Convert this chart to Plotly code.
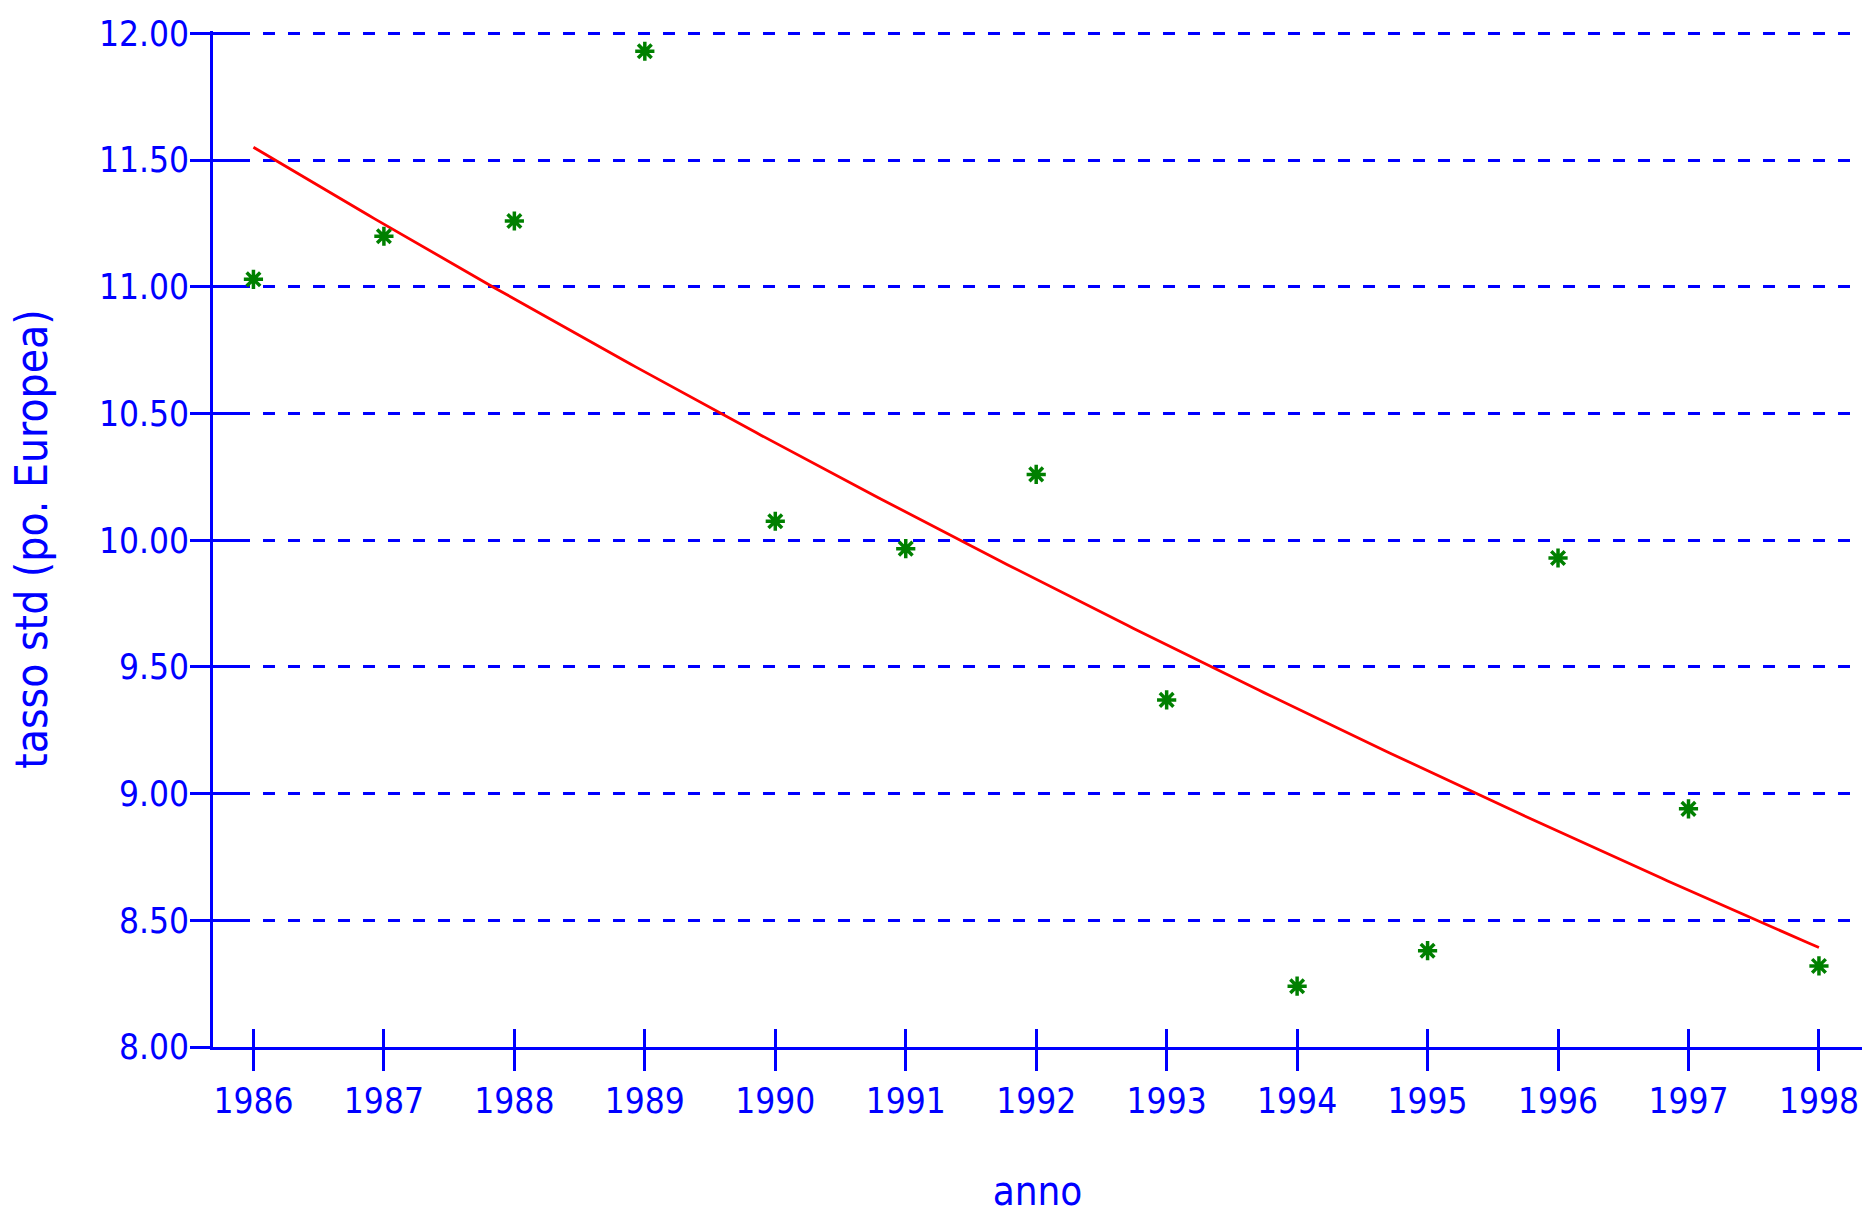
import numpy as np
import plotly.graph_objects as go

years = [1986, 1987, 1988, 1989, 1990, 1991, 1992, 1993, 1994, 1995, 1996, 1997, 1998]
tasso_std = [11.03, 11.20, 11.26, 11.93, 10.075, 9.967, 10.26, 9.37, 8.24, 8.38, 9.93, 8.94, 8.32]
y_ticks = [8.0, 8.5, 9.0, 9.5, 10.0, 10.5, 11.0, 11.5, 12.0]
x_title = "anno"
y_title = "tasso std (po. Europea)"

BLUE = "#0000FF"
RED = "#FF0000"
GREEN = "#008000"
FONT = "DejaVu Sans Condensed, DejaVu Sans, sans-serif"

# exponential trend fitted to the data
coef = np.polyfit(years, np.log(tasso_std), 1)
trend_x = np.linspace(years[0], years[-1], 300)
trend_y = np.exp(np.polyval(coef, trend_x))

fig = go.Figure()
fig.add_trace(go.Scatter(x=trend_x, y=trend_y, mode="lines",
                         line=dict(color=RED, width=2.8), hoverinfo="skip", showlegend=False))
fig.add_trace(go.Scatter(x=years, y=tasso_std, mode="markers",
                         marker=dict(symbol="asterisk-open", size=16, color=GREEN,
                                     line=dict(color=GREEN, width=3.5)),
                         showlegend=False))
# invisible helpers so the overlay axes (crossing tick marks) are drawn
fig.add_trace(go.Scatter(x=[years[0]], y=[y_ticks[0]], xaxis="x2", yaxis="y",
                         mode="markers", marker=dict(opacity=0), hoverinfo="skip", showlegend=False))
fig.add_trace(go.Scatter(x=[years[0]], y=[y_ticks[0]], xaxis="x", yaxis="y2",
                         mode="markers", marker=dict(opacity=0), hoverinfo="skip", showlegend=False))

xr = [1985.69, 1998.33]
yr = [8.0, 12.01]

fig.update_layout(
    width=1862, height=1214,
    margin=dict(l=213, r=0, t=31, b=167),
    plot_bgcolor="white", paper_bgcolor="white",
    font=dict(family=FONT, color=BLUE, size=36),
    xaxis=dict(range=xr, tickvals=years, ticktext=[str(y) for y in years],
               showgrid=False, zeroline=False, automargin=False,
               showline=True, linecolor=BLUE, linewidth=3,
               ticks="outside", ticklen=21, tickwidth=3, tickcolor=BLUE,
               tickfont=dict(family=FONT, size=35, color=BLUE),
               ticklabelstandoff=0, ticklabeloverflow="allow",
               title=dict(text=x_title, font=dict(family=FONT, size=40, color=BLUE), standoff=68)),
    yaxis=dict(range=yr, tickvals=y_ticks, tickformat=".2f",
               showgrid=True, gridcolor=BLUE, gridwidth=3, griddash="12px,13px",
               zeroline=False, automargin=False,
               showline=True, linecolor=BLUE, linewidth=3,
               ticks="outside", ticklen=20, tickwidth=3, tickcolor=BLUE,
               tickfont=dict(family=FONT, size=35, color=BLUE),
               ticklabelstandoff=-6, ticklabeloverflow="allow",
               title=dict(text=y_title, font=dict(family=FONT, size=44, color=BLUE), standoff=38)),
    xaxis2=dict(range=xr, overlaying="x", anchor="y", tickvals=years,
                showticklabels=False, showgrid=False, zeroline=False, showline=False,
                ticks="inside", ticklen=18, tickwidth=3, tickcolor=BLUE, side="bottom"),
    yaxis2=dict(range=yr, overlaying="y", anchor="x", tickvals=y_ticks,
                showticklabels=False, showgrid=False, zeroline=False, showline=False,
                ticks="inside", ticklen=30, tickwidth=3, tickcolor=BLUE, side="left"),
)

fig.write_html("out.html", config={"displayModeBar": False},
               post_script="document.body.style.margin='0';")
